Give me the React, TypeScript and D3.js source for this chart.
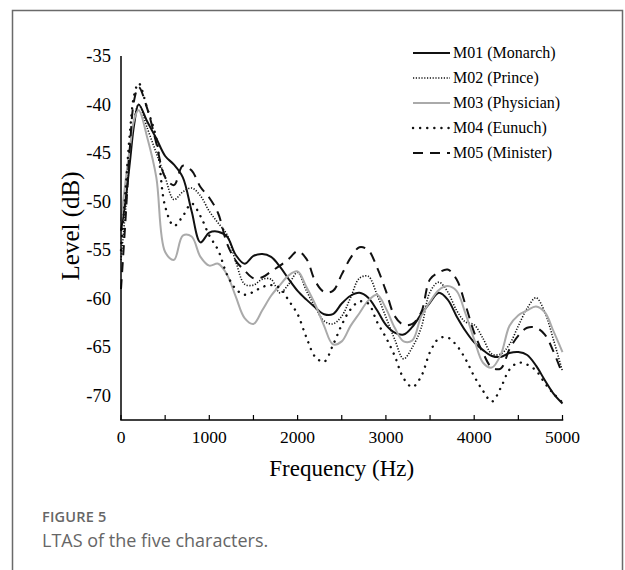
import React from 'react'
import { scaleLinear, line, curveCatmullRom } from 'd3'

// frequency grid (Hz)
const freqs = [0, 50, 100, 150, 200, 300, 400, 500, 600, 700, 800, 900, 1000, 1100, 1200, 1300, 1400, 1500, 1600, 1700, 1800, 1900, 2000, 2100, 2200, 2300, 2400, 2500, 2600, 2700, 2800, 2900, 3000, 3100, 3200, 3300, 3400, 3500, 3600, 3700, 3800, 3900, 4000, 4100, 4200, 4300, 4400, 4500, 4600, 4700, 4800, 4900, 5000]

const m01 = [-53, -50, -46, -42, -40, -41.8, -43.5, -45.3, -46.2, -47.5, -51, -54.2, -53.2, -53.1, -53.6, -55.5, -56.4, -55.6, -55.4, -55.7, -56.7, -58, -59.2, -60.1, -60.9, -61.6, -61.6, -60.5, -59.7, -59.4, -59.9, -61.2, -62.7, -63.5, -63.7, -62.9, -61.6, -60.4, -59.4, -60.1, -61.8, -63.3, -64.5, -65.3, -65.9, -66.0, -65.6, -65.5, -65.8, -66.9, -68.4, -69.8, -70.8]
const m02 = [-56, -51, -45.5, -41.5, -40, -42.5, -45, -47.5, -49.8, -49.0, -48.6, -49.4, -51.0, -52.2, -53.4, -56.2, -58.5, -58.6, -58.0, -58.0, -59.4, -58.5, -57.3, -59.2, -60.9, -62.3, -62.6, -61.8, -59.9, -57.9, -57.7, -59.6, -61.9, -64.2, -66.2, -65.0, -63.0, -59.3, -58.3, -59.3, -61.2, -62.4, -62.7, -64.1, -65.7, -65.7, -64.7, -62.8, -61.0, -59.9, -61.4, -64.3, -67.5]
const m03 = [-52, -48, -44.5, -41.5, -40.6, -43.5, -47.5, -55.2, -56.0, -53.5, -53.6, -55.7, -56.6, -56.4, -57.5, -59.8, -62.0, -62.6, -61.2, -59.7, -58.6, -57.6, -57.2, -58.8, -60.6, -62.8, -64.7, -64.4, -62.8, -61.5, -60.2, -59.6, -61.0, -63.0, -64.4, -64.3, -61.8, -60.3, -59.1, -58.7, -59.2, -61.5, -64.2, -66.6, -67.1, -65.8, -62.8, -61.7, -61.2, -60.8, -61.4, -63.4, -65.5]
const m04 = [-55, -49, -43, -39, -37.8, -40.5, -43.5, -50.5, -52.5, -51.5, -50.2, -51.5, -53.5, -55.0, -57.5, -59.0, -59.6, -59.3, -58.8, -58.6, -58.9, -60.2, -61.6, -64.0, -66.0, -66.5, -64.8, -62.7, -61.1, -60.3, -60.5, -62.4, -64.0, -65.9, -68.2, -69.1, -68.0, -65.5, -64.1, -64.0, -64.8, -66.2, -68.0, -69.5, -70.6, -69.2, -67.3, -66.6, -66.8, -67.4, -68.7, -69.8, -70.7]
const m05 = [-59, -52, -44.5, -39.5, -38.2, -40.5, -44, -47.5, -48.3, -46.3, -46.8, -48.5, -49.6, -51.2, -54.3, -56.1, -57.1, -57.9, -57.8, -57.2, -56.6, -55.9, -55.1, -55.9, -58.2, -59.3, -59.2, -57.5, -55.8, -54.7, -55.0, -56.8, -59.2, -61.8, -62.7, -62.6, -61.4, -58.0, -57.3, -57.0, -58.0, -60.6, -63.5, -65.6, -67.1, -67.2, -65.2, -63.8, -63.0, -63.0, -63.7, -65.5, -67.8]

const names = ['M01 (Monarch)', 'M02 (Prince)', 'M03 (Physician)', 'M04 (Eunuch)', 'M05 (Minister)']
const xTicks = [0, 500, 1000, 1500, 2000, 2500, 3000, 3500, 4000, 4500, 5000]
const xLabels = [0, 1000, 2000, 3000, 4000, 5000]
const yLabels = [-35, -40, -45, -50, -55, -60, -65, -70]

const styles = [
  { stroke: '#111', width: 2, dash: null, cap: 'butt' },
  { stroke: '#111', width: 1.6, dash: '1.2,1.6', cap: 'butt' },
  { stroke: '#aaa', width: 2, dash: null, cap: 'butt' },
  { stroke: '#111', width: 2.4, dash: '0.1,7', cap: 'round' },
  { stroke: '#111', width: 2, dash: '10,7', cap: 'butt' },
]

const serif = '"Liberation Serif", "Times New Roman", serif'
const sans = '"Open Sans", "Noto Sans", sans-serif'

export default function App() {
  const x = scaleLinear().domain([0, 5000]).range([121, 562.5])
  const y = scaleLinear().domain([-72.5, -35]).range([420, 56])
  const series = [m01, m02, m03, m04, m05]

  const mkLine = line<number>()
    .x((d, i) => x(freqs[i]))
    .y(d => y(d))
    .curve(curveCatmullRom.alpha(0.5))

  return (
    <svg width={625} height={570} style={{ position: 'absolute', left: 0, top: 0, background: '#fff' }}>
      {/* card frame */}
      <path d="M12.5,600 V10.5 H622.5 V600" fill="none" stroke="#6a6a6a" strokeWidth={1.5} />

      {/* series */}
      {series.map((s, i) => (
        <path key={i} d={mkLine(s) || ''} fill="none"
          stroke={styles[i].stroke} strokeWidth={styles[i].width}
          strokeDasharray={styles[i].dash || undefined}
          strokeLinecap={styles[i].cap as any} strokeLinejoin="round" />
      ))}

      {/* axes */}
      <line x1={x(0)} x2={x(0)} y1={y(-35)} y2={y(-72.5)} stroke="#000" strokeWidth={1.5} />
      <line x1={x(0) - 0.75} x2={x(5000) + 0.75} y1={y(-72.5)} y2={y(-72.5)} stroke="#000" strokeWidth={1.5} />
      {xTicks.map(t => (
        <line key={t} x1={x(t)} x2={x(t)} y1={y(-72.5)} y2={y(-72.5) - 5} stroke="#000" strokeWidth={1.2} />
      ))}
      {xLabels.map(t => (
        <text key={t} x={x(t)} y={443} textAnchor="middle" fontFamily={serif} fontSize={17.5}>{t}</text>
      ))}
      {yLabels.map(t => (
        <text key={t} x={111} y={y(t) + 6} textAnchor="end" fontFamily={serif} fontSize={18.5}>{t}</text>
      ))}
      <text x={x(2500)} y={476} textAnchor="middle" fontFamily={serif} fontSize={23}>Frequency (Hz)</text>
      <text transform="translate(79,226) rotate(-90)" textAnchor="middle" fontFamily={serif} fontSize={25}>Level (dB)</text>

      {/* legend */}
      {names.map((n, i) => {
        const ly = 53 + i * 25
        return (
          <g key={n}>
            <line x1={413} x2={450} y1={ly} y2={ly}
              stroke={styles[i].stroke} strokeWidth={styles[i].width}
              strokeDasharray={styles[i].dash || undefined}
              strokeLinecap={styles[i].cap as any} />
            <text x={453} y={ly + 5} fontFamily={serif} fontSize={16}>{n}</text>
          </g>
        )
      })}

      {/* caption */}
      <text x={42} y={522} fontFamily={sans} fontSize={14.5} fontWeight={600} fill="#666" letterSpacing={0.2}>FIGURE 5</text>
      <text x={42} y={547} fontFamily={sans} fontSize={18} fill="#666">LTAS of the five characters.</text>
    </svg>
  )
}
